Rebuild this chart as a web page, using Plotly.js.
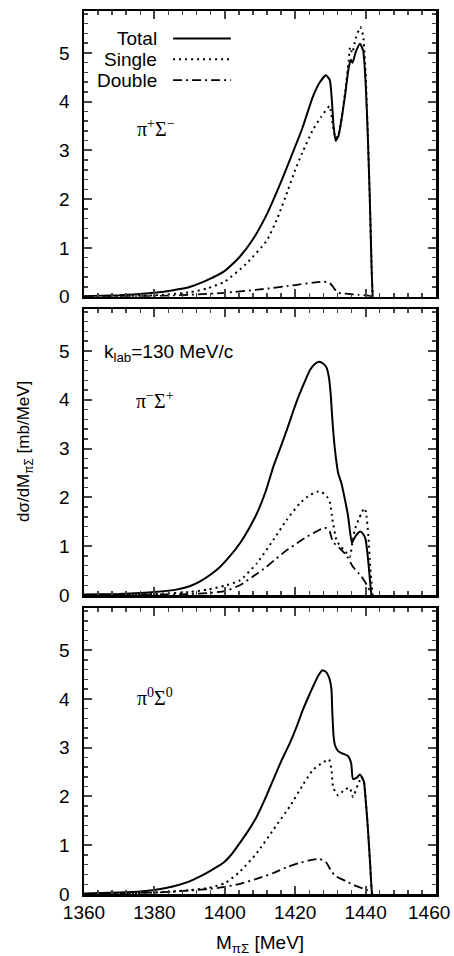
<!DOCTYPE html>
<html>
<head>
<meta charset="utf-8">
<script src="https://cdn.plot.ly/plotly-3.0.1.min.js"></script>
<style>html,body{margin:0;padding:0;background:#fff;}#chart{width:454px;height:956px;}</style>
</head>
<body>
<div id="chart"></div>
<script>
// ---- Data ----
// Panel 1: pi+ Sigma-
const massTotal1 = [1360,1365,1370,1375,1380,1385,1390,1395,1400,1404,1408,1412,1416,1419,1422,1425,1427,1428.7,1429.8,1430.4,1430.9,1431.5,1432.3,1433.2,1434.2,1435.2,1435.8,1436.3,1437.2,1438.4,1439.3,1440,1440.6,1441.2,1441.7,1442];
const total1 = [0.01,0.02,0.03,0.05,0.08,0.13,0.2,0.34,0.53,0.8,1.18,1.7,2.36,2.9,3.45,4.1,4.4,4.54,4.45,4.05,3.5,3.2,3.3,3.65,4.15,4.7,4.86,4.8,5.02,5.19,5.05,4.4,3.35,2.0,0.6,0.0];
const massSingle1 = [1360,1370,1380,1390,1395,1400,1406,1412,1415,1418,1420,1422,1425,1427.4,1429.8,1430.5,1431.5,1432.3,1433.2,1434.2,1435.2,1435.6,1436.2,1437.2,1438.5,1439.3,1440,1440.6,1441.2,1441.7,1442];
const single1 = [0.0,0.01,0.03,0.09,0.17,0.31,0.67,1.16,1.62,2.2,2.6,2.95,3.42,3.69,3.91,3.6,3.25,3.32,3.67,4.2,4.85,5.12,5.0,5.3,5.53,5.35,4.6,3.4,2.0,0.6,0.0];
const massDouble1 = [1360,1370,1380,1390,1400,1410,1420,1425,1428,1429.8,1430.8,1431.7,1433,1435,1438,1441,1442];
const double1 = [0.0,0.005,0.015,0.04,0.08,0.15,0.24,0.29,0.31,0.28,0.2,0.11,0.07,0.06,0.04,0.02,0.0];

// Panel 2: pi- Sigma+
const massTotal2 = [1360,1365,1370,1376,1380,1385.5,1390,1393,1396,1398.7,1401.5,1404.3,1407,1409.1,1411.5,1413.8,1415.7,1417.6,1419.5,1421.3,1423,1424.2,1425.5,1426.8,1428,1428.9,1429.6,1430.1,1430.6,1431.2,1432.2,1433.1,1434,1435,1436.1,1436.5,1437.4,1438.5,1439.3,1440,1440.6,1441,1441.6,1441.8];
const total2 = [0.01,0.015,0.02,0.04,0.06,0.1,0.18,0.28,0.42,0.58,0.8,1.06,1.38,1.67,2.1,2.63,3.0,3.38,3.78,4.13,4.42,4.61,4.73,4.78,4.74,4.66,4.45,4.1,3.55,3.04,2.5,2.3,2.0,1.63,1.06,1.12,1.23,1.3,1.25,1.14,0.8,0.5,0.04,0.0];
const massSingle2 = [1360,1370,1380,1390,1395,1400,1404.3,1409.1,1413.8,1417.6,1421.3,1424.2,1426.5,1427.5,1429,1429.8,1430.6,1431.7,1433,1434,1435.5,1436.2,1436.9,1438,1438.8,1439.6,1440.1,1440.8,1441.3,1441.6,1442];
const single2 = [0.0,0.01,0.02,0.06,0.11,0.19,0.3,0.65,1.13,1.54,1.88,2.05,2.12,2.11,2.02,1.91,1.54,1.13,0.98,0.92,0.78,1.05,1.33,1.55,1.67,1.78,1.7,1.2,0.6,0.31,0.0];
const massDouble2 = [1360,1370,1380,1390,1395,1400,1404.3,1408,1411.9,1414.5,1417.6,1420.5,1423.2,1426,1428,1428.9,1429.8,1430.7,1432.6,1434.5,1436.4,1438.8,1440,1441.1,1441.7];
const double2 = [0.0,0.005,0.01,0.02,0.04,0.08,0.2,0.38,0.58,0.74,0.92,1.06,1.19,1.3,1.37,1.37,1.3,1.09,0.96,0.82,0.58,0.38,0.25,0.1,0.0];

// Panel 3: pi0 Sigma0
const massTotal3 = [1360,1365,1370,1376,1380,1385.5,1390,1393,1396,1399.6,1402,1404.3,1406.7,1409.1,1411.5,1413.8,1416,1418.5,1420.5,1422.2,1423.8,1425.1,1426.5,1427.7,1428.8,1429.8,1430.3,1430.5,1430.9,1431.3,1432.2,1433.5,1435,1435.9,1436.4,1437.4,1438.4,1439.5,1440,1440.6,1441.3,1441.8,1442];
const total3 = [0.01,0.02,0.03,0.05,0.08,0.16,0.26,0.36,0.48,0.64,0.82,1.05,1.3,1.59,1.96,2.35,2.72,3.1,3.45,3.78,4.05,4.26,4.47,4.59,4.55,4.4,4.2,3.8,3.25,3.05,2.93,2.88,2.83,2.68,2.36,2.38,2.45,2.31,1.95,1.4,0.6,0.03,0.0];
const massSingle3 = [1360,1370,1380,1385,1390,1395,1400,1404.3,1409.1,1413.8,1418.5,1422.2,1425.1,1427.9,1429.6,1430.3,1430.8,1432.2,1434,1435.5,1436.4,1437.8,1438.8,1439.5,1440,1440.6,1441.3,1441.8,1442];
const single3 = [0.0,0.01,0.03,0.05,0.08,0.12,0.22,0.46,0.84,1.32,1.8,2.24,2.55,2.7,2.76,2.55,2.18,2.02,2.14,2.18,1.99,2.24,2.4,2.31,1.95,1.4,0.6,0.03,0.0];
const massDouble3 = [1360,1370,1380,1390,1395,1399.6,1404.3,1409,1413.8,1418,1421.3,1424,1426.9,1428.8,1430.3,1431.7,1434.5,1437.4,1440.2,1442];
const double3 = [0.0,0.01,0.03,0.07,0.1,0.14,0.21,0.31,0.43,0.56,0.64,0.69,0.72,0.65,0.46,0.36,0.26,0.16,0.09,0.0];

// Axis tick values / labels (the last label, 1460, sits at the right edge and is drawn as a right-aligned note)
const xTickVals = [1360,1380,1400,1420,1440,1460];
const xTickText = ['1360','1380','1400','1420','1440',''];
const xLastLabel = '1460';
const yTickVals = [0,1,2,3,4,5];
const legendNames = ['Total','Single','Double'];
const panelLabels = ['π<sup>+</sup>Σ<sup>−</sup>','π<sup>−</sup>Σ<sup>+</sup>','π<sup>0</sup>Σ<sup>0</sup>'];

// ---- Styles ----
const FONT = 'Liberation Sans, Arial, sans-serif';
const SERIF = 'Liberation Serif, Times New Roman, serif';
const FS = 19;
const styles = [
  {color:'#000', width:2, dash:'solid'},
  {color:'#000', width:2, dash:'2px,4px'},
  {color:'#000', width:1.8, dash:'9px,4px,2px,4px'}
];

const panels = [
  [[massTotal1,total1],[massSingle1,single1],[massDouble1,double1]],
  [[massTotal2,total2],[massSingle2,single2],[massDouble2,double2]],
  [[massTotal3,total3],[massSingle3,single3],[massDouble3,double3]]
];

const traces = [];
panels.forEach((p, i) => {
  const xa = i === 0 ? 'x' : 'x' + (i + 1);
  const ya = i === 0 ? 'y' : 'y' + (i + 1);
  p.forEach((s, j) => {
    traces.push({
      x: s[0], y: s[1], type: 'scatter', mode: 'lines',
      name: legendNames[j], showlegend: false,
      xaxis: xa, yaxis: ya,
      line: Object.assign({shape: 'spline', smoothing: 0.5}, styles[j]),
      hoverinfo: 'skip'
    });
  });
});

function xAxis(showLabels, anchor) {
  return {
    range: [1360, 1460], tickvals: xTickVals, ticktext: xTickText,
    showticklabels: showLabels, ticks: 'inside', ticklen: 8, tickwidth: 2,
    minor: {dtick: 4, ticks: 'inside', ticklen: 4, tickwidth: 1.5, tick0: 1360},
    showline: true, linewidth: 2.5, linecolor: '#000', mirror: 'allticks',
    showgrid: false, zeroline: false, anchor: anchor,
    ticklabeloverflow: 'allow',
    tickfont: {family: FONT, size: FS, color: '#000'}
  };
}
function yAxis(domain, anchor) {
  return {
    domain: domain, range: [0, 5.86], tickvals: yTickVals, ticktext: yTickVals.map(String),
    ticks: 'inside', ticklen: 8, tickwidth: 2,
    minor: {dtick: 0.2, ticks: 'inside', ticklen: 4, tickwidth: 1.5, tick0: 0},
    showline: true, linewidth: 2.5, linecolor: '#000', mirror: 'allticks',
    showgrid: false, zeroline: false, anchor: anchor,
    ticklabelstandoff: 8, ticklabeloverflow: 'allow',
    tickfont: {family: FONT, size: FS, color: '#000'}
  };
}

const annotations = [];
// Panel labels
const labelPos = [[0.146, 0.59, 'y'], [0.141, 0.682, 'y2'], [0.146, 0.69, 'y3']];
labelPos.forEach((lp, i) => {
  annotations.push({
    text: panelLabels[i], xref: (i === 0 ? 'x' : 'x' + (i + 1)) + ' domain', yref: lp[2] + ' domain',
    x: lp[0], y: lp[1], xanchor: 'left', yanchor: 'middle', showarrow: false,
    font: {family: SERIF, size: 20, color: '#000'}
  });
});
annotations.push({
  text: 'k<sub>lab</sub>=130 MeV/c', xref: 'x2 domain', yref: 'y2 domain',
  x: 0.05, y: 0.846, xanchor: 'left', yanchor: 'middle', showarrow: false,
  font: {family: FONT, size: FS, color: '#000'}
});
// Last x tick label at the right edge
annotations.push({
  text: xLastLabel, xref: 'x3 domain', yref: 'y3 domain', x: 1, y: 0,
  xshift: 15, yshift: -18, xanchor: 'right', yanchor: 'middle', showarrow: false,
  borderpad: 0, font: {family: FONT, size: FS, color: '#000'}
});
// Legend (gnuplot style: text then sample)
const legY = [0.904, 0.831, 0.758];
const shapes = [];
legendNames.forEach((n, j) => {
  annotations.push({
    text: n, xref: 'x domain', yref: 'y domain', x: 0.214, y: legY[j],
    xanchor: 'right', yanchor: 'middle', showarrow: false,
    font: {family: FONT, size: FS, color: '#000'}
  });
  shapes.push({
    type: 'line', xref: 'x domain', yref: 'y domain',
    x0: 0.253, x1: 0.417, y0: legY[j], y1: legY[j],
    line: styles[j]
  });
});
// Axis titles
annotations.push({
  text: 'M<sub>πΣ</sub> [MeV]', xref: 'paper', yref: 'paper', x: 0.5, y: 0,
  yshift: -36, xanchor: 'center', yanchor: 'top', showarrow: false,
  font: {family: FONT, size: FS, color: '#000'}
});
annotations.push({
  text: 'dσ/dM<sub>πΣ</sub> [mb/MeV]', xref: 'paper', yref: 'y2 domain', x: 0, y: 0.5,
  xshift: -59, xanchor: 'center', yanchor: 'middle', textangle: -90, showarrow: false,
  font: {family: FONT, size: 17, color: '#000'}
});

const layout = {
  width: 454, height: 956,
  margin: {l: 84, r: 18, t: 11, b: 62},
  paper_bgcolor: '#fff', plot_bgcolor: '#fff',
  showlegend: false,
  xaxis: xAxis(false, 'y'),
  xaxis2: xAxis(false, 'y2'),
  xaxis3: xAxis(true, 'y3'),
  yaxis: yAxis([0.6764, 1], 'x'),
  yaxis2: yAxis([0.3386, 0.6625], 'x2'),
  yaxis3: yAxis([0, 0.3236], 'x3'),
  annotations: annotations,
  shapes: shapes
};

Plotly.newPlot('chart', traces, layout, {displayModeBar: false, staticPlot: true});
</script>
</body>
</html>
